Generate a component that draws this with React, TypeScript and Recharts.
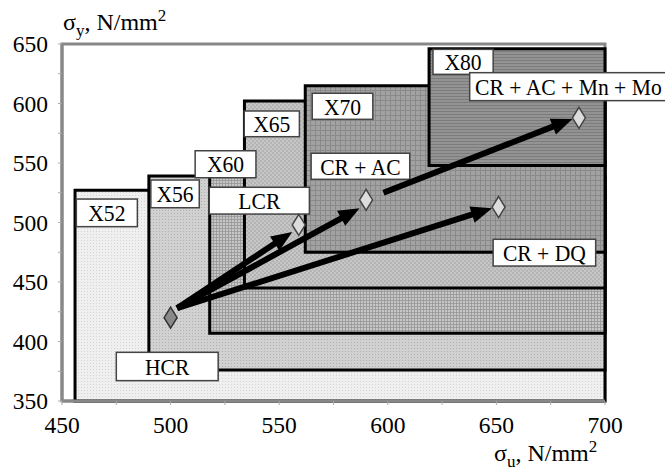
import React from 'react';
import { ScatterChart, Scatter, XAxis, YAxis, ReferenceArea, ReferenceLine } from 'recharts';

// ---- data ----
const grades = ['X52', 'X56', 'X60', 'X65', 'X70', 'X80'];
const gradeMinUts = [456, 490, 518, 534, 562, 619];
const gradeMaxUts = [700, 700, 700, 700, 700, 700];
const gradeMinYs = [350, 376, 407, 445, 475, 548];
const gradeMaxYs = [527, 539, 552, 602, 615, 646];

const routes = ['HCR', 'LCR', 'CR + AC', 'CR + DQ', 'CR + AC + Mn + Mo'];
const routeUts = [500, 559, 590, 651, 688];
const routeYs = [420, 498, 519, 513, 588];

const arrowFromUts = [503, 503, 503, 598];
const arrowFromYs = [428, 428, 428, 525];
const arrowToUts = [556, 587, 648, 685];
const arrowToYs = [492, 512, 512, 587];

const xTicks = [450, 475, 500, 525, 550, 575, 600, 625, 650, 675, 700];
const yTicks = [350, 375, 400, 425, 450, 475, 500, 525, 550, 575, 600, 625, 650];

// ---- layout of the label boxes (data coordinates) ----
const labelBoxes = [
  { text: 'X52', x1: 456.6, x2: 484.7, y1: 496.5, y2: 519.7 },
  { text: 'X56', x1: 490.9, x2: 513.2, y1: 512.4, y2: 535.7 },
  { text: 'X60', x1: 511.3, x2: 539.3, y1: 537.6, y2: 560.3 },
  { text: 'LCR', x1: 517.8, x2: 563.9, y1: 507.1, y2: 529.6 },
  { text: 'X65', x1: 533.9, x2: 559.3, y1: 572.1, y2: 593.7 },
  { text: 'X70', x1: 565.2, x2: 593.1, y1: 586.7, y2: 608.6 },
  { text: 'CR + AC', x1: 564.7, x2: 610.1, y1: 536.3, y2: 558.2 },
  { text: 'X80', x1: 620.8, x2: 648.5, y1: 624.5, y2: 645.5 },
  { text: 'CR + AC + Mn + Mo', x1: 637.7, x2: 728.6, y1: 602.4, y2: 625.9 },
  { text: 'CR + DQ', x1: 648.5, x2: 695.7, y1: 463.4, y2: 485.9 },
  { text: 'HCR', x1: 475, x2: 521.9, y1: 367.1, y2: 390.9 },
];

const FONT = 'Liberation Serif';
const patternIds = grades.map((g) => 'pat' + g);

const points = routes.map((name, i) => ({ name, x: routeUts[i], y: routeYs[i] }));

const Arrow = (p: any) => {
  const { x1, y1, x2, y2 } = p;
  const dx = x2 - x1;
  const dy = y2 - y1;
  const len = Math.sqrt(dx * dx + dy * dy) || 1;
  const ux = dx / len;
  const uy = dy / len;
  const head = 21;
  const half = 8.5;
  const bx = x2 - ux * head;
  const by = y2 - uy * head;
  const px = -uy;
  const py = ux;
  return (
    <g>
      <line x1={x1} y1={y1} x2={bx + ux * 2} y2={by + uy * 2} stroke="#000" strokeWidth={6} strokeLinecap="butt" />
      <polygon
        points={`${x2},${y2} ${bx + px * half},${by + py * half} ${bx - px * half},${by - py * half}`}
        fill="#000"
      />
    </g>
  );
};

const boxShape = (text: string) => (p: any) => {
  const { x, y, width, height } = p;
  const cx = x + width / 2;
  const cy = y + height / 2;
  return (
    <g>
      <rect x={x} y={y} width={width} height={height} fill="#fff" stroke="#444" strokeWidth={1.5} />
      <text
        transform={`translate(${cx},${cy}) scale(0.92,1)`}
        x={0}
        y={0}
        dy="0.35em"
        textAnchor="middle"
        fontFamily={FONT}
        fontSize={23.5}
        fill="#000"
      >
        {text}
      </text>
    </g>
  );
};

const Diamond = (p: any) => {
  const { cx, cy, payload } = p;
  const hcr = payload && payload.name === 'HCR';
  const w = 6.5;
  const h = 10.5;
  return (
    <polygon
      points={`${cx},${cy - h} ${cx + w},${cy} ${cx},${cy + h} ${cx - w},${cy}`}
      fill={hcr ? '#8a8a8a' : '#dcdcdc'}
      stroke={hcr ? '#333' : '#444'}
      strokeWidth={1.5}
    />
  );
};

const tickFmt = (v: number) => (v % 50 === 0 ? String(v) : '');

export default function App() {
  return (
    <div style={{ position: 'absolute', left: 0, top: 0 }}>
      <ScatterChart width={665} height={472} margin={{ top: 44, right: 60, bottom: 31, left: 0 }}>
        <defs>
          <pattern id={patternIds[0]} width="3" height="3" patternUnits="userSpaceOnUse">
            <rect width="3" height="3" fill="#efefef" />
            <rect width="1" height="1" fill="#d4d4d4" />
          </pattern>
          <pattern id={patternIds[1]} width="3" height="3" patternUnits="userSpaceOnUse">
            <rect width="3" height="3" fill="#d1d1d1" />
            <rect width="1" height="1" fill="#b0b0b0" />
          </pattern>
          <pattern id={patternIds[2]} width="3" height="3" patternUnits="userSpaceOnUse">
            <rect width="3" height="3" fill="#c6c6c6" />
            <path d="M0 0.5 H3 M0.5 0 V3" stroke="#979797" strokeWidth="0.8" />
          </pattern>
          <pattern id={patternIds[3]} width="4" height="4" patternUnits="userSpaceOnUse">
            <rect width="4" height="4" fill="#c6c6c6" />
            <rect width="2" height="2" fill="#b4b4b4" />
            <rect x="2" y="2" width="2" height="2" fill="#b4b4b4" />
          </pattern>
          <pattern id={patternIds[4]} width="5" height="5" patternUnits="userSpaceOnUse">
            <rect width="5" height="5" fill="#a2a2a2" />
            <path d="M0 0.5 H5 M0.5 0 V5" stroke="#8a8a8a" strokeWidth="1" />
          </pattern>
          <pattern id={patternIds[5]} width="3" height="3" patternUnits="userSpaceOnUse">
            <rect width="3" height="3" fill="#939393" />
            <path d="M0 0.5 H3" stroke="#7c7c7c" strokeWidth="1" />
          </pattern>
        </defs>
        <XAxis
          type="number"
          dataKey="x"
          domain={[450, 700]}
          ticks={xTicks}
          interval={0}
          tickFormatter={tickFmt}
          allowDataOverflow
          height={40}
          axisLine={{ stroke: '#888', strokeWidth: 3 }}
          tickLine={{ stroke: '#aaa' }}
          tickSize={4}
          tickMargin={11}
          tick={{ fill: '#000', fontSize: 23.5, fontFamily: FONT }}
        />
        <YAxis
          type="number"
          dataKey="y"
          domain={[350, 650]}
          ticks={yTicks}
          interval={0}
          tickFormatter={tickFmt}
          allowDataOverflow
          width={62}
          axisLine={{ stroke: '#888', strokeWidth: 3 }}
          tickLine={{ stroke: '#aaa' }}
          tickSize={4}
          tickMargin={10}
          tick={{ fill: '#000', fontSize: 23.5, fontFamily: FONT }}
        />
        <ReferenceArea
          x1={450}
          x2={700}
          y1={350}
          y2={650}
          fill="#fff"
          fillOpacity={1}
          stroke="#888"
          strokeWidth={3}
          ifOverflow="visible"
        />
        {grades.map((g, i) => (
          <ReferenceArea
            key={g}
            x1={gradeMinUts[i]}
            x2={gradeMaxUts[i]}
            y1={gradeMinYs[i]}
            y2={gradeMaxYs[i]}
            fill={`url(#${patternIds[i]})`}
            fillOpacity={1}
            stroke="#000"
            strokeWidth={3}
            ifOverflow="visible"
          />
        ))}
        {arrowFromUts.map((xv, i) => (
          <ReferenceLine
            key={'a' + i}
            segment={[
              { x: xv, y: arrowFromYs[i] },
              { x: arrowToUts[i], y: arrowToYs[i] },
            ]}
            ifOverflow="visible"
            shape={Arrow}
          />
        ))}
        {labelBoxes.map((b) => (
          <ReferenceArea
            key={b.text}
            x1={b.x1}
            x2={b.x2}
            y1={b.y1}
            y2={b.y2}
            ifOverflow="visible"
            shape={boxShape(b.text)}
          />
        ))}
        <Scatter data={points} isAnimationActive={false} shape={Diamond} />
        <text x={63} y={30} fontFamily={FONT} fontSize={24} fill="#000">
          σ<tspan dy={6} fontSize={17}>y</tspan>
          <tspan dy={-6}>, N/mm</tspan>
          <tspan dy={-9} fontSize={17}>2</tspan>
        </text>
        <text x={494} y={461} fontFamily={FONT} fontSize={24} fill="#000">
          σ<tspan dy={6} fontSize={17}>u</tspan>
          <tspan dy={-6}>, N/mm</tspan>
          <tspan dy={-9} fontSize={17}>2</tspan>
        </text>
      </ScatterChart>
    </div>
  );
}
